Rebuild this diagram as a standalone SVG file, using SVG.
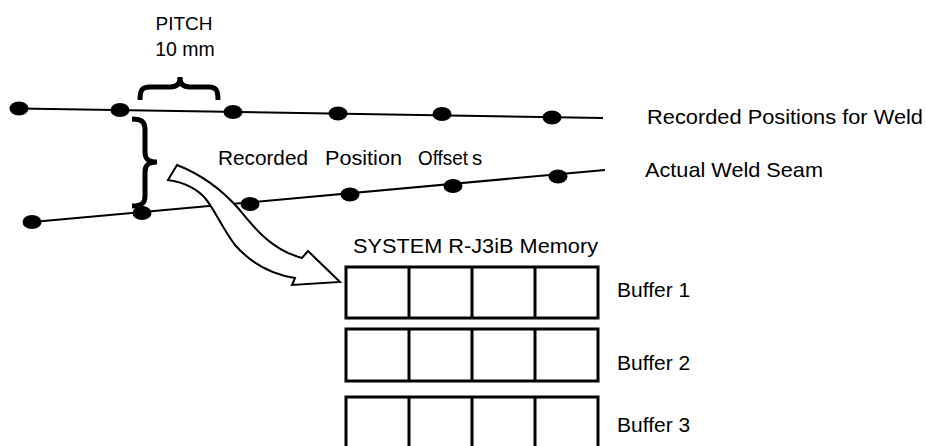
<svg xmlns="http://www.w3.org/2000/svg" width="927" height="446" viewBox="0 0 927 446">
<style>
.t{font-family:"Liberation Sans",Arial,sans-serif;fill:#000;}
.ln{stroke:#000;stroke-width:2;fill:none;}
.dot{fill:#000;}
.br{stroke:#000;stroke-width:5;fill:none;stroke-linecap:butt;}
.cell{stroke:#000;stroke-width:3;fill:#fff;}
.arrow{stroke:#000;stroke-width:2;fill:#fff;stroke-linejoin:miter;}
</style>
<rect width="927" height="446" fill="#fff"/>
<g id="connectors">
  <line class="ln" x1="19" y1="108.5" x2="603" y2="118"/>
  <line class="ln" x1="27" y1="222.5" x2="605" y2="170"/>
</g>
<g id="recorded-positions">
  <ellipse class="dot" cx="19" cy="108.5" rx="9.5" ry="7"/>
  <ellipse class="dot" cx="120" cy="110" rx="9.5" ry="7"/>
  <ellipse class="dot" cx="233" cy="112" rx="9.5" ry="7"/>
  <ellipse class="dot" cx="338" cy="113.5" rx="9.5" ry="7"/>
  <ellipse class="dot" cx="442" cy="114" rx="9.5" ry="7"/>
  <ellipse class="dot" cx="552" cy="117.5" rx="9.5" ry="7"/>
</g>
<g id="actual-seam">
  <ellipse class="dot" cx="32" cy="222" rx="9.5" ry="7"/>
  <ellipse class="dot" cx="142" cy="213" rx="9.5" ry="7"/>
  <ellipse class="dot" cx="250" cy="204" rx="9.5" ry="7"/>
  <ellipse class="dot" cx="350" cy="194.5" rx="9.5" ry="7"/>
  <ellipse class="dot" cx="453" cy="186" rx="9.5" ry="7"/>
  <ellipse class="dot" cx="558" cy="176.5" rx="9.5" ry="7"/>
</g>
<g id="pitch">
  <path class="br" d="M140,100 C140,90 142,87 150,87 L170,87 C177,87 180,84 180,77 C180,84 183,87 190,87 L209,87 C216,87 218,90 218,100"/>
  <text class="t" x="184" y="30" font-size="19" text-anchor="middle">PITCH</text>
  <text class="t" x="185" y="56" font-size="19.5" text-anchor="middle">10 mm</text>
</g>
<g id="offset-brace">
  <path class="br" d="M132,119 C142,119 145,122 145,130 L145,152 C145,159 148,162 157,162 C148,162 145,165 145,172 L145,196 C145,203 142,206 132,206"/>
</g>
<g id="offset-label">
  <text class="t" y="165" font-size="20.5"><tspan x="218" textLength="90" lengthAdjust="spacingAndGlyphs">Recorded</tspan><tspan x="325" textLength="77" lengthAdjust="spacingAndGlyphs">Position</tspan><tspan x="418" textLength="50" lengthAdjust="spacingAndGlyphs">Offset</tspan><tspan x="472">s</tspan></text>
</g>
<g id="legend">
  <text class="t" x="647" y="124" font-size="20.5" textLength="276" lengthAdjust="spacingAndGlyphs">Recorded Positions for Weld</text>
  <text class="t" x="645" y="177" font-size="21" textLength="178" lengthAdjust="spacingAndGlyphs">Actual Weld Seam</text>
</g>
<g id="transfer-arrow">
  <path class="arrow" d="M177,165 C200,174 222,190 238,208 C252,225 265,242 288,253 C293,255 298,257 302,258 L308,251 L340,282 L292,285 L295,278 C270,274 250,262 235,245 C222,228 215,210 205,198 C195,187 182,182 168,180 Z"/>
</g>
<g id="memory">
  <text class="t" x="353" y="253" font-size="21" textLength="245" lengthAdjust="spacingAndGlyphs">SYSTEM R-J3iB Memory</text>
</g>
<g id="buffer1">
  <rect class="cell" x="346" y="267" width="252" height="51"/>
  <line class="cell" x1="409" y1="267" x2="409" y2="318"/>
  <line class="cell" x1="472" y1="267" x2="472" y2="318"/>
  <line class="cell" x1="535" y1="267" x2="535" y2="318"/>
  <text class="t" x="617" y="297" font-size="21">Buffer 1</text>
</g>
<g id="buffer2">
  <rect class="cell" x="346" y="329" width="252" height="52"/>
  <line class="cell" x1="409" y1="329" x2="409" y2="381"/>
  <line class="cell" x1="472" y1="329" x2="472" y2="381"/>
  <line class="cell" x1="535" y1="329" x2="535" y2="381"/>
  <text class="t" x="617" y="370" font-size="21">Buffer 2</text>
</g>
<g id="buffer3">
  <rect class="cell" x="346" y="397" width="252" height="60"/>
  <line class="cell" x1="409" y1="397" x2="409" y2="457"/>
  <line class="cell" x1="472" y1="397" x2="472" y2="457"/>
  <line class="cell" x1="535" y1="397" x2="535" y2="457"/>
  <text class="t" x="617" y="432" font-size="21">Buffer 3</text>
</g>
</svg>
